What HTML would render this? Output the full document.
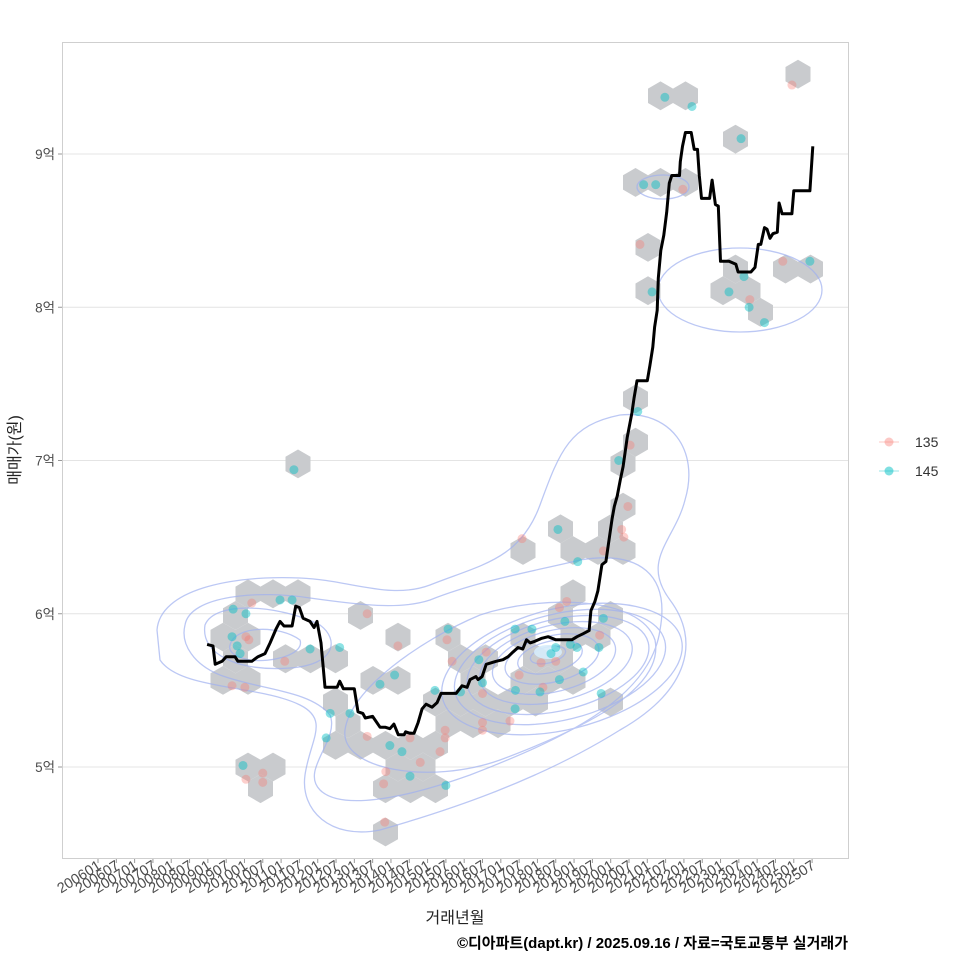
<!DOCTYPE html>
<html><head><meta charset="utf-8"><style>
body{margin:0;background:#fff;font-family:"Liberation Sans","Noto Sans CJK KR",sans-serif}
svg text{font-family:"Liberation Sans","Noto Sans CJK KR",sans-serif}
</style></head><body>
<svg id="c" width="960" height="960" xmlns="http://www.w3.org/2000/svg"></svg>
<script>
const xTickLabels=[];for(let y=2006;y<=2025;y++){xTickLabels.push(y+'01');xTickLabels.push(y+'07');}
const yTicks=[5,6,7,8,9];
const yTickLabels=['5억','6억','7억','8억','9억'];
const ptT=[2009.69,2010.2,2010.04,2009.66,2009.8,2009.88,2010.04,2010.12,2010.97,2011.3,2011.1,2011.79,2009.66,2010.01,2009.96,2010.04,2010.5,2010.5,2011.35,2012.6,2013.35,2012.34,2012.23,2012.88,2013.35,2013.7,2014.1,2014.19,2013.97,2014.3,2014.52,2013.86,2014.52,2013.8,2014.8,2013.83,2015.2,2015.56,2015.53,2015.67,2015.48,2015.48,2015.34,2015.5,2015.9,2016.5,2016.4,2016.6,2016.5,2016.5,2016.5,2017.39,2017.39,2017.25,2017.4,2017.5,2017.85,2018.1,2018.15,2018.07,2018.37,2018.5,2018.5,2018.6,2018.8,2018.75,2018.6,2018.9,2019.08,2019.25,2019.68,2019.74,2019.7,2019.8,2017.58,2018.56,2019.1,2019.8,2020.22,2020.53,2020.3,2020.36,2020.47,2020.74,2020.8,2021.13,2020.9,2021.23,2021.97,2021.48,2022.22,2023.56,2024.95,2024.7,2025.44,2023.23,2023.8,2023.78,2024.2,2023.64];
const ptP=[6.03,6.07,6.0,5.85,5.79,5.74,5.85,5.83,6.09,6.09,5.69,5.77,5.53,5.52,5.01,4.92,4.96,4.9,6.94,5.78,6.0,5.35,5.19,5.35,5.2,5.54,5.6,5.79,5.14,5.1,5.19,4.97,4.94,4.89,5.03,4.64,5.5,5.9,5.83,5.69,5.24,5.19,5.1,4.88,5.49,5.55,5.7,5.75,5.48,5.29,5.24,5.9,5.38,5.3,5.5,5.6,5.9,5.68,5.52,5.49,5.74,5.78,5.69,6.04,6.08,5.95,5.57,5.8,5.78,5.62,5.78,5.48,5.86,5.97,6.49,6.55,6.34,6.41,7.0,7.1,6.55,6.5,6.7,7.32,8.41,8.1,8.8,8.8,8.77,9.37,9.31,9.1,9.45,8.3,8.3,8.1,8.05,8.0,7.9,8.2];
const ptType=['c','p','c','c','c','c','p','p','c','c','p','c','p','p','c','p','p','p','c','c','p','c','c','c','p','c','c','p','c','c','p','p','c','p','p','p','c','c','p','p','p','p','p','c','c','c','c','p','p','p','p','c','c','p','c','p','c','p','p','c','c','c','p','p','p','c','c','c','c','c','c','c','p','c','p','c','c','p','c','p','p','p','p','c','p','c','c','c','p','c','c','c','p','p','c','c','p','c','c','c'];
const lineT=[2008.98,2009.14,2009.2,2009.39,2009.5,2009.74,2009.82,2010.0,2010.2,2010.37,2010.56,2010.7,2010.86,2010.97,2011.08,2011.3,2011.4,2011.5,2011.6,2011.79,2011.9,2011.98,2012.09,2012.2,2012.53,2012.6,2012.7,2013.0,2013.1,2013.23,2013.3,2013.5,2013.7,2013.84,2013.97,2014.08,2014.2,2014.36,2014.4,2014.52,2014.63,2014.74,2014.85,2014.96,2015.12,2015.26,2015.37,2015.67,2015.78,2015.94,2016.08,2016.16,2016.32,2016.38,2016.49,2016.6,2016.87,2017.06,2017.2,2017.33,2017.47,2017.6,2017.7,2017.8,2017.93,2018.12,2018.29,2018.5,2018.94,2019.08,2019.25,2019.41,2019.46,2019.57,2019.65,2019.76,2019.87,2019.93,2020.04,2020.1,2020.18,2020.26,2020.34,2020.45,2020.58,2020.64,2020.72,2021.0,2021.07,2021.15,2021.2,2021.27,2021.3,2021.37,2021.45,2021.53,2021.6,2021.67,2021.88,2021.9,2021.96,2022.04,2022.2,2022.28,2022.37,2022.42,2022.48,2022.7,2022.77,2022.86,2022.94,2023.0,2023.23,2023.42,2023.48,2023.83,2023.94,2024.03,2024.1,2024.2,2024.27,2024.35,2024.43,2024.55,2024.6,2024.68,2024.95,2025.0,2025.44,2025.52];
const lineP=[5.80,5.79,5.67,5.69,5.72,5.72,5.69,5.69,5.69,5.72,5.74,5.81,5.9,5.95,5.92,5.92,6.05,6.04,5.97,5.95,5.91,5.95,5.81,5.52,5.52,5.56,5.51,5.51,5.36,5.35,5.32,5.33,5.26,5.26,5.25,5.28,5.21,5.21,5.23,5.22,5.22,5.29,5.38,5.41,5.39,5.42,5.48,5.48,5.48,5.53,5.52,5.57,5.59,5.57,5.59,5.67,5.69,5.7,5.72,5.75,5.78,5.77,5.83,5.81,5.82,5.84,5.85,5.83,5.83,5.85,5.87,5.89,6.02,6.08,6.15,6.32,6.34,6.44,6.62,6.7,6.77,6.87,6.96,7.15,7.31,7.41,7.52,7.52,7.62,7.74,7.87,7.98,8.19,8.37,8.47,8.62,8.81,8.86,8.86,8.95,9.05,9.14,9.14,9.03,9.03,8.86,8.71,8.71,8.83,8.67,8.66,8.30,8.30,8.28,8.23,8.23,8.26,8.41,8.41,8.52,8.51,8.45,8.48,8.49,8.68,8.61,8.61,8.76,8.76,9.05];

const NS='http://www.w3.org/2000/svg',svg=document.getElementById('c');
const X=t=>98+(t-2006)*36.62, Y=p=>767-(p-5)*153.25;
function mk(tag,at,parent){const e=document.createElementNS(NS,tag);for(const k in at)e.setAttribute(k,at[k]);(parent||svg).appendChild(e);return e;}
let e=mk('rect',{x:62.5,y:42.5,width:786,height:816,fill:'#fff',stroke:'#cfcfcf'});


yTicks.forEach((v,i)=>{
 let g=mk('line',{x1:63,x2:848,y1:Y(v),y2:Y(v),stroke:'#e4e4e4'});
 
 
 mk('line',{x1:58,x2:62,y1:Y(v),y2:Y(v),stroke:'#999'});
 let t=mk('text',{x:55,y:Y(v)+5,'text-anchor':'end','font-size':13.5,fill:'#4d4d4d'});t.textContent=yTickLabels[i];
 
 
});
xTickLabels.forEach((l,i)=>{
 const tv=2006+i*0.5, x=X(tv);
 mk('line',{x1:x,x2:x,y1:859,y2:863,stroke:'#999'});
 let t=mk('text',{x:0,y:0,'text-anchor':'end','font-size':14.5,fill:'#4d4d4d',transform:`translate(${x+4},${868}) rotate(-32)`});t.textContent=l;
 
 
});
const hw=25,hr=hw/Math.sqrt(3),hv=hr*1.5,ox=98,oy=767;const bins={};
ptT.forEach((t,i)=>{const px=X(t),py=Y(ptP[i]);let row=Math.round((py-oy)/hv);let col=Math.round((px-ox)/hw);
 let best=null,bd=1e9;for(let r=row-1;r<=row+1;r++){let o=(r&1)?hw/2:0;for(let c=col-1;c<=col+1;c++){let cx=ox+o+c*hw,cy=oy+r*hv,d=(cx-px)**2+(cy-py)**2;if(d<bd){bd=d;best=[cx,cy];}}}
 bins[best.join(',')]=best;});
const hg=mk('g',{});
Object.values(bins).forEach(([cx,cy])=>{let pts=[];for(let k=0;k<6;k++){let a=Math.PI/180*(60*k-90);pts.push((cx+hr*Math.cos(a)).toFixed(1)+','+(cy+hr*Math.sin(a)).toFixed(1));}
 let h=mk('polygon',{points:pts.join(' '),fill:'#c9cbce',opacity:1},hg);
 
 });
const cg=mk('g',{fill:'none',stroke:'#9fb0f0','stroke-width':1.3,opacity:0.7});
const paths=['M157,630 C160,590 230,575 300,578 C350,580 390,600 430,585 C480,565 520,560 540,505 C560,450 570,425 620,415 C670,410 700,450 685,500 C675,540 640,560 670,600 C700,640 690,690 620,730 C540,780 450,810 380,830 C330,840 300,810 305,775 C310,740 330,720 300,705 C260,685 180,690 160,660 Z',
'M185,625 C190,595 260,590 310,598 C360,605 400,610 430,600 C480,580 540,570 580,560 C640,550 670,575 660,630 C650,700 560,740 470,775 C400,800 340,810 320,790 C300,770 340,740 330,715 C310,690 260,690 220,675 C195,665 180,645 185,625 Z',
'M205,625 C215,600 280,605 320,625 C340,640 335,665 290,668 C240,672 200,655 205,625 Z',
'M345,730 C350,690 420,640 480,615 C540,595 640,595 655,640 C665,690 580,730 500,760 C430,785 340,770 345,730 Z',
'M230,645 C235,625 280,625 300,640 C305,655 270,663 250,660 C235,657 228,652 230,645 Z'];
paths.forEach(d=>{let p=mk('path',{d},cg);});
for(let k=0;k<8;k++){let rx=18+k*15,ry=8+k*7.5;let el=mk('ellipse',{cx:548+k*2,cy:655+k*2,rx,ry,transform:`rotate(-14 ${548+k*2} ${655+k*2})`},cg);
 
 }
mk('ellipse',{cx:548,cy:652,rx:14,ry:7,fill:'#d6ecfb',stroke:'none',opacity:0.9});
[[740,290,82,42],[663,187,26,12]].forEach(([cx,cy,rx,ry])=>{let el=mk('ellipse',{cx,cy,rx,ry},cg);});
ptT.forEach((t,i)=>{let c=mk('circle',{cx:X(t),cy:Y(ptP[i]),r:4.5,fill:ptType[i]==='p'?'#F8766D':'#00BFC4',opacity:ptType[i]==='p'?0.35:0.45});
 
 });
let ln=mk('polyline',{points:lineT.map((t,i)=>X(t).toFixed(1)+','+Y(lineP[i]).toFixed(1)).join(' '),fill:'none',stroke:'#000','stroke-width':3,'stroke-linejoin':'round'});


</script>
<svg width="960" height="960" style="position:absolute;left:0;top:0" xmlns="http://www.w3.org/2000/svg">
<text x="20" y="450" transform="rotate(-90 20 450)" text-anchor="middle" font-size="16" fill="#222">매매가(원)</text>
<text x="455" y="923" text-anchor="middle" font-size="16" fill="#222">거래년월</text>
<text x="848" y="948" text-anchor="end" font-size="15" font-weight="bold" fill="#000">©디아파트(dapt.kr) / 2025.09.16 / 자료=국토교통부 실거래가</text>
<g><line x1="879" x2="899" y1="442" y2="442" stroke="#F8766D" opacity="0.4"/><circle cx="889" cy="442" r="4.5" fill="#F8766D" opacity="0.4"/><text x="915" y="447" font-size="14" fill="#333">135</text></g>
<g><line x1="879" x2="899" y1="471" y2="471" stroke="#00BFC4" opacity="0.4"/><circle cx="889" cy="471" r="4.5" fill="#00BFC4" opacity="0.5"/><text x="915" y="476" font-size="14" fill="#333">145</text></g>
</svg>
</body></html>
